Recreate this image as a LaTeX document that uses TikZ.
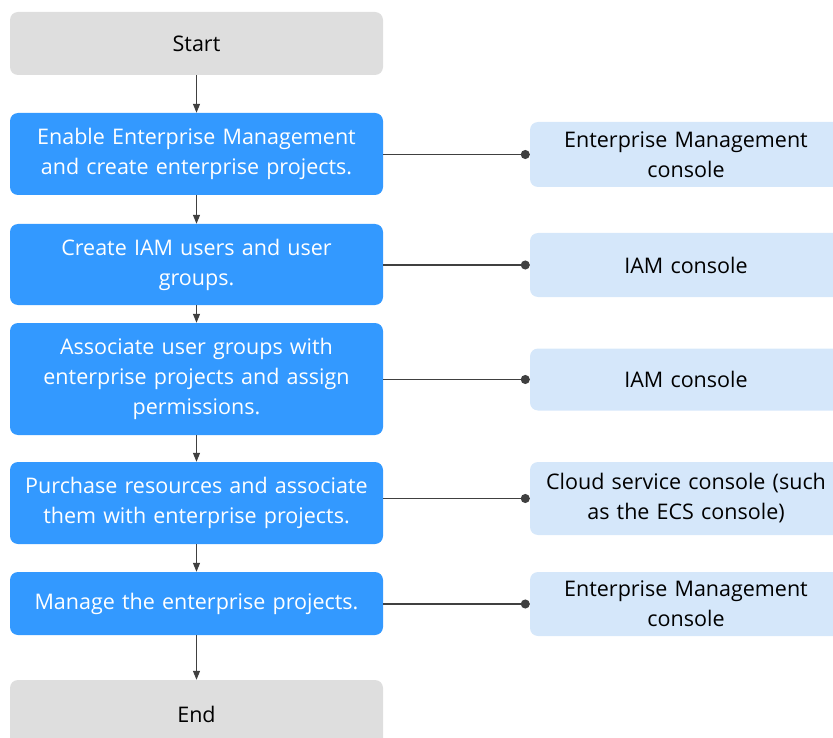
\documentclass[tikz,border=0pt]{standalone}
\usepackage{fontspec}
\setmainfont{Open Sans}
\usetikzlibrary{arrows.meta}
\definecolor{stepblue}{HTML}{3399FF}
\definecolor{termgray}{HTML}{DEDEDE}
\definecolor{toolblue}{HTML}{D5E7FA}
\definecolor{linegray}{HTML}{404040}
\tikzset{
  box/.style={rounded corners=8pt, inner sep=0pt, align=center, font=\fontsize{21.5}{30}\selectfont},
  term/.style={box, fill=termgray, text=black, minimum width=373pt},
  stepbox/.style={box, fill=stepblue, text=white, minimum width=373pt, text width=365pt},
  tool/.style={box, fill=toolblue, text=black, minimum width=312pt, text width=310pt},
  flow/.style={draw=linegray, line width=1.2pt, -{Triangle[length=9pt,width=7pt]}},
  link/.style={draw=linegray, line width=1.2pt, -{Circle[length=9pt]}}
}
\begin{document}
\begin{tikzpicture}[x=1pt,y=-1pt]
\useasboundingbox (0,0) rectangle (833,738);
\clip (0,0) rectangle (833,738);
\node[term, minimum height=63pt] (start) at (196.5,43.5) {Start};
\node[stepbox, minimum height=82pt] (s1) at (196.5,154) {Enable Enterprise Management\\and create enterprise projects.};
\node[stepbox, minimum height=81pt] (s2) at (196.5,264.5) {Create IAM users and user\\groups.};
\node[stepbox, minimum height=112pt] (s3) at (196.5,379) {Associate user groups with\\enterprise projects and assign\\permissions.};
\node[stepbox, minimum height=82pt] (s4) at (196.5,503) {Purchase resources and associate\\them with enterprise projects.};
\node[stepbox, minimum height=63pt] (s5) at (196.5,603.5) {Manage the enterprise projects.};
\node[term, minimum height=68pt] (end) at (196.5,714) {End};
\node[tool, minimum height=65pt] (t1) at (686,154.5) {Enterprise Management\\console};
\node[tool, minimum height=64pt] (t2) at (686,265) {IAM console};
\node[tool, minimum height=62pt] (t3) at (686,379.5) {IAM console};
\node[tool, minimum height=73pt] (t4) at (686,498.5) {Cloud service console (such\\as the ECS console)};
\node[tool, minimum height=64pt] (t5) at (686,604) {Enterprise Management\\console};
\draw[flow] (start) -- (s1);
\draw[flow] (s1) -- (s2);
\draw[flow] (s2) -- (s3);
\draw[flow] (s3) -- (s4);
\draw[flow] (s4) -- (s5);
\draw[flow] (s5) -- (end);
\foreach \i in {1,...,5} {
  \draw[link] (s\i.east |- t\i.west) -- (t\i.west);
}
\end{tikzpicture}
\end{document}
